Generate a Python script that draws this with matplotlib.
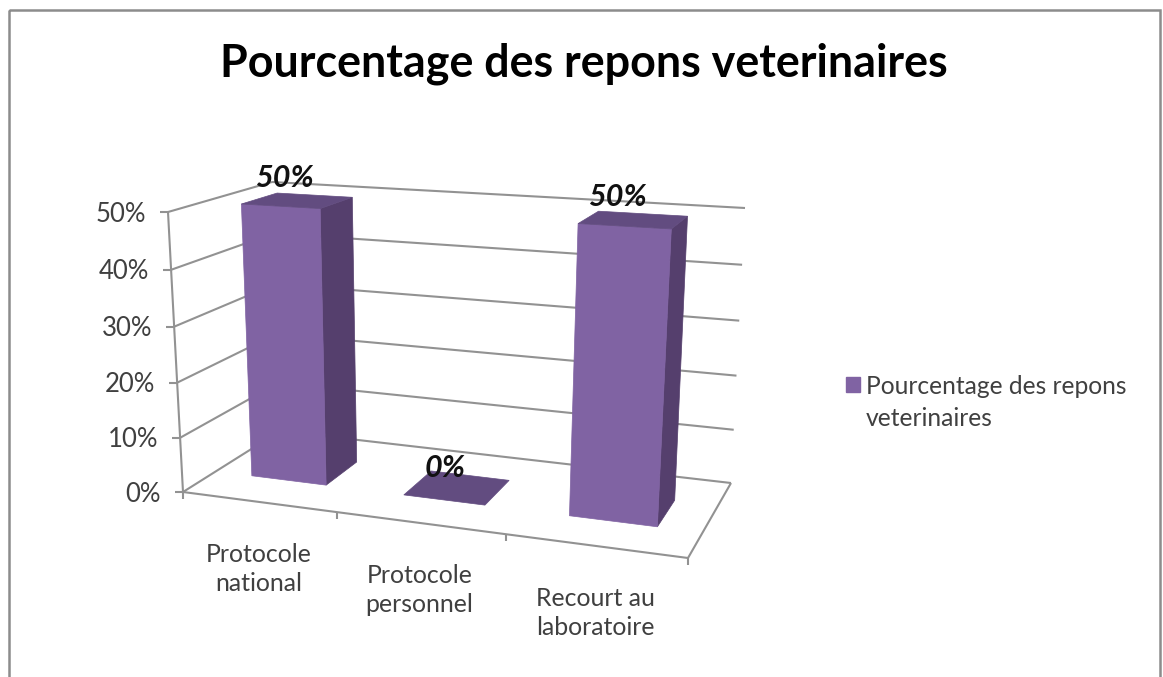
import matplotlib
matplotlib.use("Agg")
import matplotlib.pyplot as plt
from matplotlib.patches import Polygon, Rectangle, Patch

plt.rcParams['font.family'] = ['Lato', 'DejaVu Sans']

TITLE = "Pourcentage des repons veterinaires"
SERIES = "Pourcentage des repons\nveterinaires"
categories = ["Protocole\nnational", "Protocole\npersonnel", "Recourt au\nlaboratoire"]
values = [50, 0, 50]
y_ticks = [0, 10, 20, 30, 40, 50]

W, H = 1163, 677
C_FRONT, C_SIDE, C_TOP = "#8063A3", "#553F6D", "#624C80"
C_GRID, C_TEXT = "#929292", "#404040"

# box corners in figure pixels: (left/right, front/back, bottom/top)
FLB, FRB, BLB, BRB = (183, 492), (688, 558), (280, 431), (731, 483)
FLT, FRT, BLT, BRT = (168, 212), (706, 244), (272, 182), (745, 208)
YMAX = 50
WARP = 0.126   # foreshortening along the category axis
WARP_Y = 0.04  # foreshortening along the value axis


def project(t, v, value):
    """t: 0..1 along categories, v: 0..1 depth, value: y axis value."""
    u = t - WARP * t * (1 - t)
    w = value / YMAX
    w = w - WARP_Y * w * (1 - w)
    out = []
    for k in (0, 1):
        bot = (1 - v) * ((1 - u) * FLB[k] + u * FRB[k]) + v * ((1 - u) * BLB[k] + u * BRB[k])
        top = (1 - v) * ((1 - u) * FLT[k] + u * FRT[k]) + v * ((1 - u) * BLT[k] + u * BRT[k])
        out.append((1 - w) * bot + w * top)
    return out


fig = plt.figure(figsize=(W / 100, H / 100), dpi=100, facecolor="white")
ax = fig.add_axes([0, 0, 1, 1])
ax.set_xlim(0, W)
ax.set_ylim(H, 0)
ax.axis("off")

# chart frame (runs off the bottom of the picture)
ax.add_patch(Rectangle((9, 10), 1151, 700, fill=False, ec="#8c8c8c", lw=1.8, zorder=1))

ax.text(584, 64, TITLE, ha="center", va="center", fontsize=32.3, fontweight="bold", color="black")


def line(a, b, **kw):
    ax.plot([a[0], b[0]], [a[1], b[1]], color=C_GRID, lw=1.5, solid_capstyle="butt", zorder=2, **kw)


# gridlines on walls + y ticks/labels
for val in y_ticks:
    fl, bl, br = project(0, 0, val), project(0, 1, val), project(1, 1, val)
    line(fl, bl)
    line(bl, br)
    line((fl[0] - 8, fl[1]), fl)
    ax.text(fl[0] - 22, fl[1] + 2, f"{val}%", ha="right", va="center", fontsize=18.5, color=C_TEXT)

# left edge and floor outline
line(project(0, 0, 0), project(0, 0, YMAX))
line(project(0, 0, 0), project(1, 0, 0))
line(project(1, 0, 0), project(1, 1, 0))

# category ticks + labels
n = len(categories)
for i in range(n + 1):
    p = project(i / n, 0, 0)
    line(p, (p[0], p[1] + 7))
for i, cat in enumerate(categories):
    p = project((i + .5) / n, 0, 0)
    ax.text(p[0], p[1] + 67, cat, ha="center", va="center", fontsize=17.9, color=C_TEXT, linespacing=1.35)

# bars
HALF, V0, V1 = 0.25 / n, 0.34, 0.70
label_offsets = [(-13, -23), (-12, -20), (-16, -23)]
for i, val in enumerate(values):
    c = (i + .5) / n
    t0, t1 = c - HALF, c + HALF
    poly = lambda pts, col: ax.add_patch(Polygon(pts, closed=True, fc=col, ec=col, lw=0.5, zorder=3))
    if val > 0:
        poly([project(t1, V0, 0), project(t1, V1, 0), project(t1, V1, val), project(t1, V0, val)], C_SIDE)
        poly([project(t0, V0, 0), project(t1, V0, 0), project(t1, V0, val), project(t0, V0, val)], C_FRONT)
    poly([project(t0, V0, val), project(t1, V0, val), project(t1, V1, val), project(t0, V1, val)], C_TOP)
    p = project(c, (V0 + V1) / 2, val)
    dx, dy = label_offsets[i]
    ax.text(p[0] + dx, p[1] + dy, f"{val}%", ha="center", va="center", fontsize=22, fontweight="bold",
            fontstyle="italic", color="#111111", zorder=4)

# legend
leg = ax.legend(handles=[Patch(fc=C_FRONT, ec=C_FRONT)], labels=[SERIES], loc="upper left",
                bbox_to_anchor=(846 / W, 1 - 375 / H), bbox_transform=fig.transFigure, frameon=False,
                fontsize=17.7, handlelength=0.57, handleheight=0.57, handletextpad=0.245,
                labelcolor=C_TEXT, borderpad=0, borderaxespad=0, labelspacing=0)
leg.get_texts()[0].set_linespacing(1.5)
handle = leg.legend_handles[0]
handle.set_y(handle.get_y() + 13.7)

fig.savefig("out.png", dpi=100)
